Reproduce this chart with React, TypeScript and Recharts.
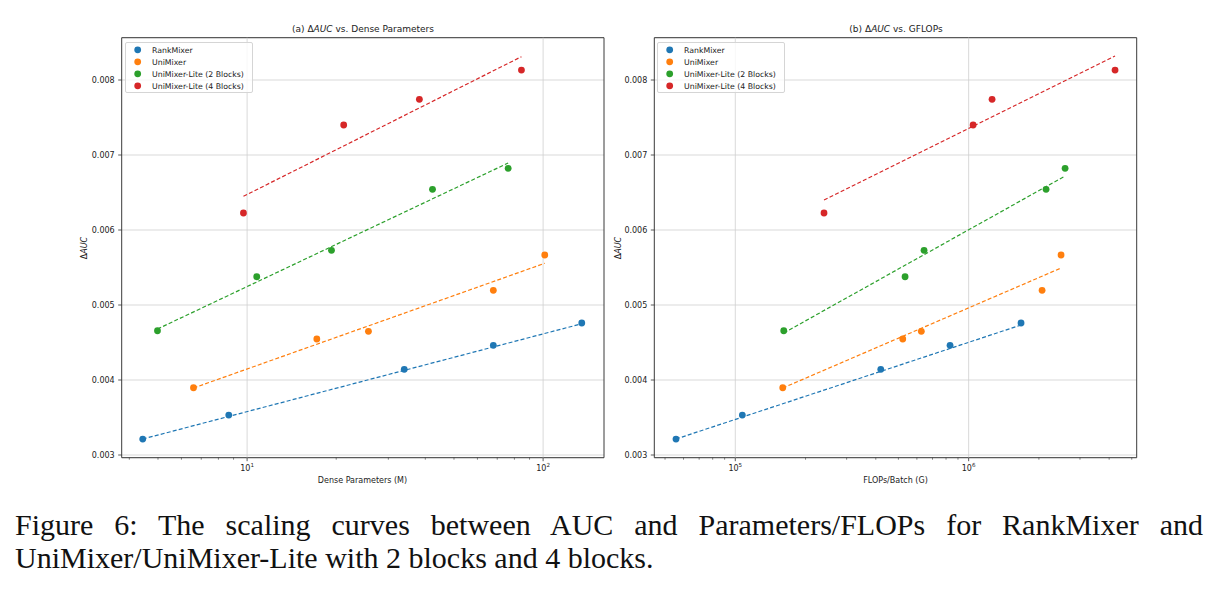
import React from 'react';
import { ScatterChart, Scatter, XAxis, YAxis, CartesianGrid, ReferenceLine, ReferenceArea, Legend } from 'recharts';

const seriesNames = ['RankMixer', 'UniMixer', 'UniMixer-Lite (2 Blocks)', 'UniMixer-Lite (4 Blocks)'];
const seriesColors = ['#1f77b4', '#ff7f0e', '#2ca02c', '#d62728'];

// Dense parameters (M)
const rankParams = [4.44, 8.67, 33.96, 67.9, 135.1];
const uniParams = [6.59, 17.2, 25.7, 67.9, 101.3];
const lite2Params = [4.98, 10.78, 19.28, 42.3, 76.2];
const lite4Params = [9.72, 21.2, 38.2, 84.5];

// FLOPs/Batch (G)
const rankFlops = [55700, 107200, 420200, 832300, 1677000];
const uniFlops = [159700, 521900, 627000, 2064000, 2489000];
const lite2Flops = [161300, 534000, 644000, 2147000, 2590000];
const lite4Flops = [240000, 1045000, 1260000, 4240000];

// Delta AUC
const rankAuc = [0.003213, 0.003533, 0.004143, 0.004463, 0.00476];
const uniAuc = [0.003897, 0.004547, 0.004649, 0.005196, 0.005667];
const lite2Auc = [0.004657, 0.005377, 0.005729, 0.006543, 0.006823];
const lite4Auc = [0.006227, 0.0074, 0.007743, 0.008133];

// Fitted trend line end values (first x, last x)
const rankFitParams = [0.003213, 0.00475];
const uniFitParams = [0.003893, 0.005556];
const lite2FitParams = [0.00468, 0.006893];
const lite4FitParams = [0.006449, 0.008311];
const rankFitFlops = [0.003213, 0.004733];
const uniFitFlops = [0.003893, 0.005493];
const lite2FitFlops = [0.004627, 0.00672];
const lite4FitFlops = [0.0064, 0.00832];

const aucTicks = [0.003, 0.004, 0.005, 0.006, 0.007, 0.008];
const paramTicks = [4, 5, 6, 7, 8, 9, 10, 20, 30, 40, 50, 60, 70, 80, 90, 100];
const flopTicks = [5e4, 6e4, 7e4, 8e4, 9e4, 1e5, 2e5, 3e5, 4e5, 5e5, 6e5, 7e5, 8e5, 9e5, 1e6, 2e6, 3e6, 4e6, 5e6];
const paramMajors = [10, 100];
const flopMajors = [1e5, 1e6];

const captionLine1 = 'Figure 6:  The scaling curves between AUC and Parameters/FLOPs for RankMixer and';
const captionLine2 = 'UniMixer/UniMixer-Lite with 2 blocks and 4 blocks.';

const FONT = 'DejaVu Sans, sans-serif';
const TXT = '#222';

const pts = (xs: number[], ys: number[]) => xs.map((x, i) => ({ x, y: ys[i] }));
const fit = (xs: number[], ys: number[]) => [{ x: xs[0], y: ys[0] }, { x: xs[xs.length - 1], y: ys[1] }];

const LogTick = (props: any) => {
  const { x, y, payload } = props;
  const v = payload.value;
  const lg = Math.log10(v);
  const e = Math.round(lg);
  const major = Math.abs(lg - e) < 1e-9;
  return (
    <g>
      <line x1={x} x2={x} y1={y} y2={y + (major ? 3.5 : 2)} stroke="#333" strokeWidth={major ? 0.8 : 0.6} />
      {major && (
        <text x={x} y={y + 13.5} textAnchor="middle" fontSize={8} fill={TXT} fontFamily={FONT}>
          10<tspan dy={-4} fontSize={5.6}>{e}</tspan>
        </text>
      )}
    </g>
  );
};

const LegendBox = () => (
  <div style={{ width: 128, height: 51, border: '1px solid #d5d5d5', borderRadius: 2, background: 'rgba(255,255,255,0.8)', boxSizing: 'border-box' }}>
    <svg width={128} height={51} style={{ display: 'block', position: 'absolute', left: 0, top: 0 }}>
      {seriesNames.map((n, i) => (
        <g key={n}>
          <circle cx={12.7} cy={7.8 + i * 12} r={3.4} fill={seriesColors[i]} />
          <text x={27} y={10.6 + i * 12} fontSize={7.8} fill={TXT} fontFamily={FONT}>{n}</text>
        </g>
      ))}
    </svg>
  </div>
);

const noDot = (p: any) => <circle cx={p.cx} cy={p.cy} r={0} />;
const dot = (p: any) => <circle cx={p.cx} cy={p.cy} r={3.4} fill={p.fill} />;

type PanelProps = {
  left: number; width: number; yAxisWidth: number; marginRight: number;
  xs: number[][]; fits: number[][]; domain: [number, number]; ticks: number[]; majors: number[];
  legendLeft: number;
};

const aucs = [rankAuc, uniAuc, lite2Auc, lite4Auc];

const Panel = ({ left, width, yAxisWidth, marginRight, xs, fits, domain, ticks, majors, legendLeft }: PanelProps) => (
  <div style={{ position: 'absolute', left, top: 0 }}>
    <ScatterChart width={width} height={500} margin={{ top: 37.7, right: marginRight, bottom: 12.3, left: 0 }}>
      <CartesianGrid vertical={false} stroke="#cfcfcf" strokeWidth={0.8} />
      {majors.map((m) => (
        <ReferenceLine key={m} x={m} stroke="#cfcfcf" strokeWidth={0.8} />
      ))}
      <XAxis
        type="number" dataKey="x" scale="log" domain={domain} allowDataOverflow ticks={ticks} interval={0}
        height={30} axisLine={false} tickLine={false} tickSize={0} tickMargin={0} tick={<LogTick />}
      />
      <YAxis
        type="number" dataKey="y" domain={[0.002964, 0.008564]} allowDataOverflow ticks={aucTicks} interval={0}
        width={yAxisWidth} axisLine={false} tickSize={3.5} tickMargin={3.5}
        tickLine={{ stroke: '#333', strokeWidth: 0.8 }}
        tick={{ fontSize: 8, fill: TXT, fontFamily: FONT }}
        tickFormatter={(v: number) => v.toFixed(3)}
      />
      <ReferenceArea x1={domain[0]} x2={domain[1]} y1={0.002964} y2={0.008564} fill="none" stroke="#3a3a3a" strokeWidth={1} ifOverflow="visible" />
      {xs.map((x, i) => (
        <Scatter
          key={'fit' + i} data={fit(x, fits[i])} isAnimationActive={false} shape={noDot} legendType="none"
          line={{ stroke: seriesColors[i], strokeWidth: 1.2, strokeDasharray: '4 2.2' }} fill={seriesColors[i]}
        />
      ))}
      {xs.map((x, i) => (
        <Scatter key={'pt' + i} name={seriesNames[i]} data={pts(x, aucs[i])} isAnimationActive={false} fill={seriesColors[i]} shape={dot} />
      ))}
      <Legend
        layout="vertical" align="center" verticalAlign="middle" content={<LegendBox />}
        wrapperStyle={{ position: 'absolute', left: legendLeft, top: 41.7, width: 128, height: 51 }}
      />
    </ScatterChart>
  </div>
);

const Title = ({ x, prefix, suffix }: { x: number; prefix: string; suffix: string }) => (
  <text x={x} y={32} textAnchor="middle" fontSize={9} fill={TXT} fontFamily={FONT}>
    {prefix}Δ<tspan fontStyle="italic">AUC</tspan>{suffix}
  </text>
);

const YLabel = ({ x, y }: { x: number; y: number }) => (
  <text x={x} y={y} transform={`rotate(-90 ${x} ${y})`} textAnchor="middle" fontSize={8} fill={TXT} fontFamily={FONT}>
    Δ<tspan fontStyle="italic">AUC</tspan>
  </text>
);

const captionStyle: React.CSSProperties = {
  fontFamily: 'Liberation Serif, Times New Roman, serif', fontSize: 30, lineHeight: '33px', color: '#111', whiteSpace: 'pre',
};

export default function App() {
  return (
    <div style={{ position: 'absolute', left: 0, top: 0, width: 1218, height: 590, background: '#fff', overflow: 'hidden' }}>
      <Panel
        left={0} width={610} yAxisWidth={121.7} marginRight={6}
        xs={[rankParams, uniParams, lite2Params, lite4Params]}
        fits={[rankFitParams, uniFitParams, lite2FitParams, lite4FitParams]}
        domain={[3.77, 160.6]} ticks={paramTicks} majors={paramMajors} legendLeft={125}
      />
      <Panel
        left={540} width={600} yAxisWidth={114.3} marginRight={3.3}
        xs={[rankFlops, uniFlops, lite2Flops, lite4Flops]}
        fits={[rankFitFlops, uniFitFlops, lite2FitFlops, lite4FitFlops]}
        domain={[44970, 5250000]} ticks={flopTicks} majors={flopMajors} legendLeft={116.7}
      />
      <svg width={1218} height={590} style={{ position: 'absolute', left: 0, top: 0, pointerEvents: 'none' }}>
        <Title x={363} prefix="(a) " suffix=" vs. Dense Parameters" />
        <Title x={896} prefix="(b) " suffix=" vs. GFLOPs" />
        <YLabel x={87} y={248} />
        <YLabel x={621} y={248} />
        <text x={362.5} y={483} textAnchor="middle" fontSize={8} fill={TXT} fontFamily={FONT}>Dense Parameters (M)</text>
        <text x={895.5} y={483} textAnchor="middle" fontSize={8} fill={TXT} fontFamily={FONT}>FLOPs/Batch (G)</text>
      </svg>
      <div style={{ position: 'absolute', left: 15, top: 507.5, width: 1188 }}>
        <div style={{ ...captionStyle, whiteSpace: 'normal', textAlign: 'justify', textAlignLast: 'justify', wordSpacing: 0 }}>{captionLine1}</div>
        <div style={captionStyle}>{captionLine2}</div>
      </div>
    </div>
  );
}
